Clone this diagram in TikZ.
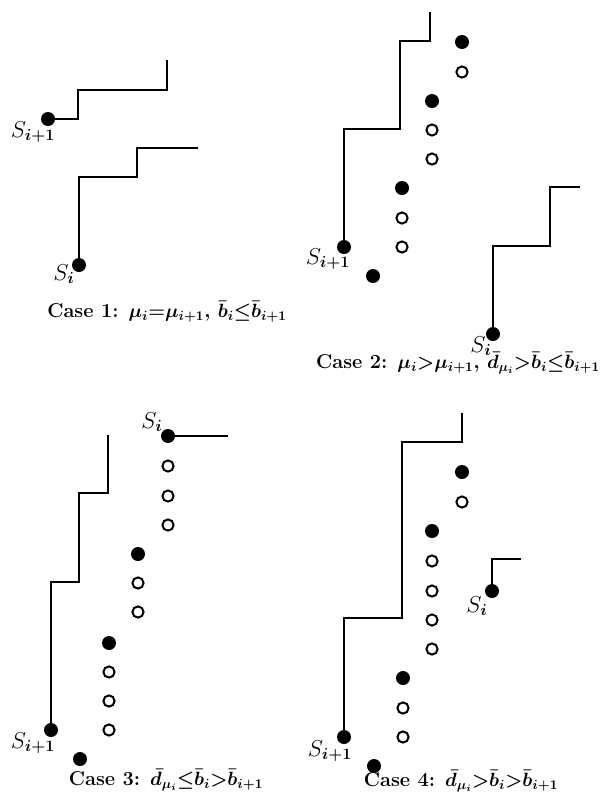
\documentclass[tikz,border=0pt]{standalone}
\usepackage{amsmath,bm}
\newcommand{\capmath}[1]{{\fontsize{14}{16}\selectfont$#1$}}
\begin{document}
\begin{tikzpicture}[x=0.75pt,y=-0.75pt,
  fdot/.style={circle,fill=black,inner sep=0pt,minimum size=10.5pt},
  odot/.style={circle,draw=black,line width=1.5pt,fill=white,inner sep=0pt,minimum size=8.4pt},
  stair/.style={line width=2.2pt},
  lab/.style={inner sep=0pt,font=\fontsize{18}{20}\selectfont},
  captext/.style={inner sep=0pt,font=\fontsize{15}{17}\selectfont\bfseries\boldmath}]
\useasboundingbox (0,0) rectangle (603,800);
% ---------- Case 1 ----------
\node[fdot] (a1) at (48,119) {};
\node[fdot] (b1) at (79,265) {};
\draw[stair] (a1) -- (78,119) -- (78,90) -- (167,90) -- (167,60);
\draw[stair] (b1) -- (79,177) -- (137,177) -- (137,148) -- (198,148);
\node[lab] (la1) at (33,132) {$S_{\bm{i+1}}$};
\node[lab] (lb1) at (64,274) {$S_{\bm{i}}$};
\node[captext] (c1) at (167,312) {Case 1: \capmath{\mu_i{=}\mu_{i+1},\,\bar b_i{\le}\bar b_{i+1}}};
% ---------- Case 2 ----------
\node[fdot] (a2) at (344,247) {};
\draw[stair] (a2) -- (344,129) -- (400,129) -- (400,41) -- (430,41) -- (430,12);
\node[lab] (la2) at (328,259) {$S_{\bm{i+1}}$};
\node[fdot] (p20) at (373,276) {};
\node[fdot] (p21) at (402,188) {};
\node[odot] (p22) at (402,218) {};
\node[odot] (p23) at (402,247) {};
\node[fdot] (p31) at (432,101) {};
\node[odot] (p32) at (432,130) {};
\node[odot] (p33) at (432,159) {};
\node[fdot] (p41) at (462,42) {};
\node[odot] (p42) at (462,72) {};
\node[fdot] (b2) at (493,334) {};
\draw[stair] (b2) -- (493,246) -- (550,246) -- (550,187) -- (580,187);
\node[lab] (lb2) at (481,346) {$S_{\bm{i}}$};
\node[captext] (c2) at (458,363) {Case 2: \capmath{\mu_i{>}\mu_{i+1},\,\bar d_{\mu_i}{>}\bar b_i{\le}\bar b_{i+1}}};
% ---------- Case 3 ----------
\node[fdot] (a3) at (51,730) {};
\draw[stair] (a3) -- (51,582) -- (79,582) -- (79,493) -- (108,493) -- (108,435);
\node[lab] (la3) at (33,743) {$S_{\bm{i+1}}$};
\node[fdot] (q20) at (80,759) {};
\node[fdot] (q21) at (109,643) {};
\node[odot] (q22) at (109,672) {};
\node[odot] (q23) at (109,701) {};
\node[odot] (q24) at (109,730) {};
\node[fdot] (q31) at (138,554) {};
\node[odot] (q32) at (138,583) {};
\node[odot] (q33) at (138,612) {};
\node[fdot] (b3) at (168,436) {};
\node[odot] (q42) at (168,466) {};
\node[odot] (q43) at (168,496) {};
\node[odot] (q44) at (168,525) {};
\coordinate (e3) at (228,436);
\draw[stair] (b3) -- (e3);
\node[lab] (lb3) at (152,422) {$S_{\bm{i}}$};
\node[captext] (c3) at (166,780) {Case 3: \capmath{\bar d_{\mu_i}{\le}\bar b_i{>}\bar b_{i+1}}};
% ---------- Case 4 ----------
\node[fdot] (a4) at (344,737) {};
\draw[stair] (a4) -- (344,618) -- (402,618) -- (402,442) -- (462,442) -- (462,413);
\node[lab] (la4) at (330,751) {$S_{\bm{i+1}}$};
\node[fdot] (r20) at (374,766) {};
\node[fdot] (r21) at (403,678) {};
\node[odot] (r22) at (403,708) {};
\node[odot] (r23) at (403,737) {};
\node[fdot] (r31) at (432,531) {};
\node[odot] (r32) at (432,561) {};
\node[odot] (r33) at (432,591) {};
\node[odot] (r34) at (432,620) {};
\node[odot] (r35) at (432,649) {};
\node[fdot] (r41) at (462,472) {};
\node[odot] (r42) at (462,502) {};
\node[fdot] (b4) at (492,591) {};
\draw[stair] (b4) -- (492,559) -- (521,559);
\node[lab] (lb4) at (477,606) {$S_{\bm{i}}$};
\node[captext] (c4) at (461,781) {Case 4: \capmath{\bar d_{\mu_i}{>}\bar b_i{>}\bar b_{i+1}}};
\end{tikzpicture}
\end{document}
